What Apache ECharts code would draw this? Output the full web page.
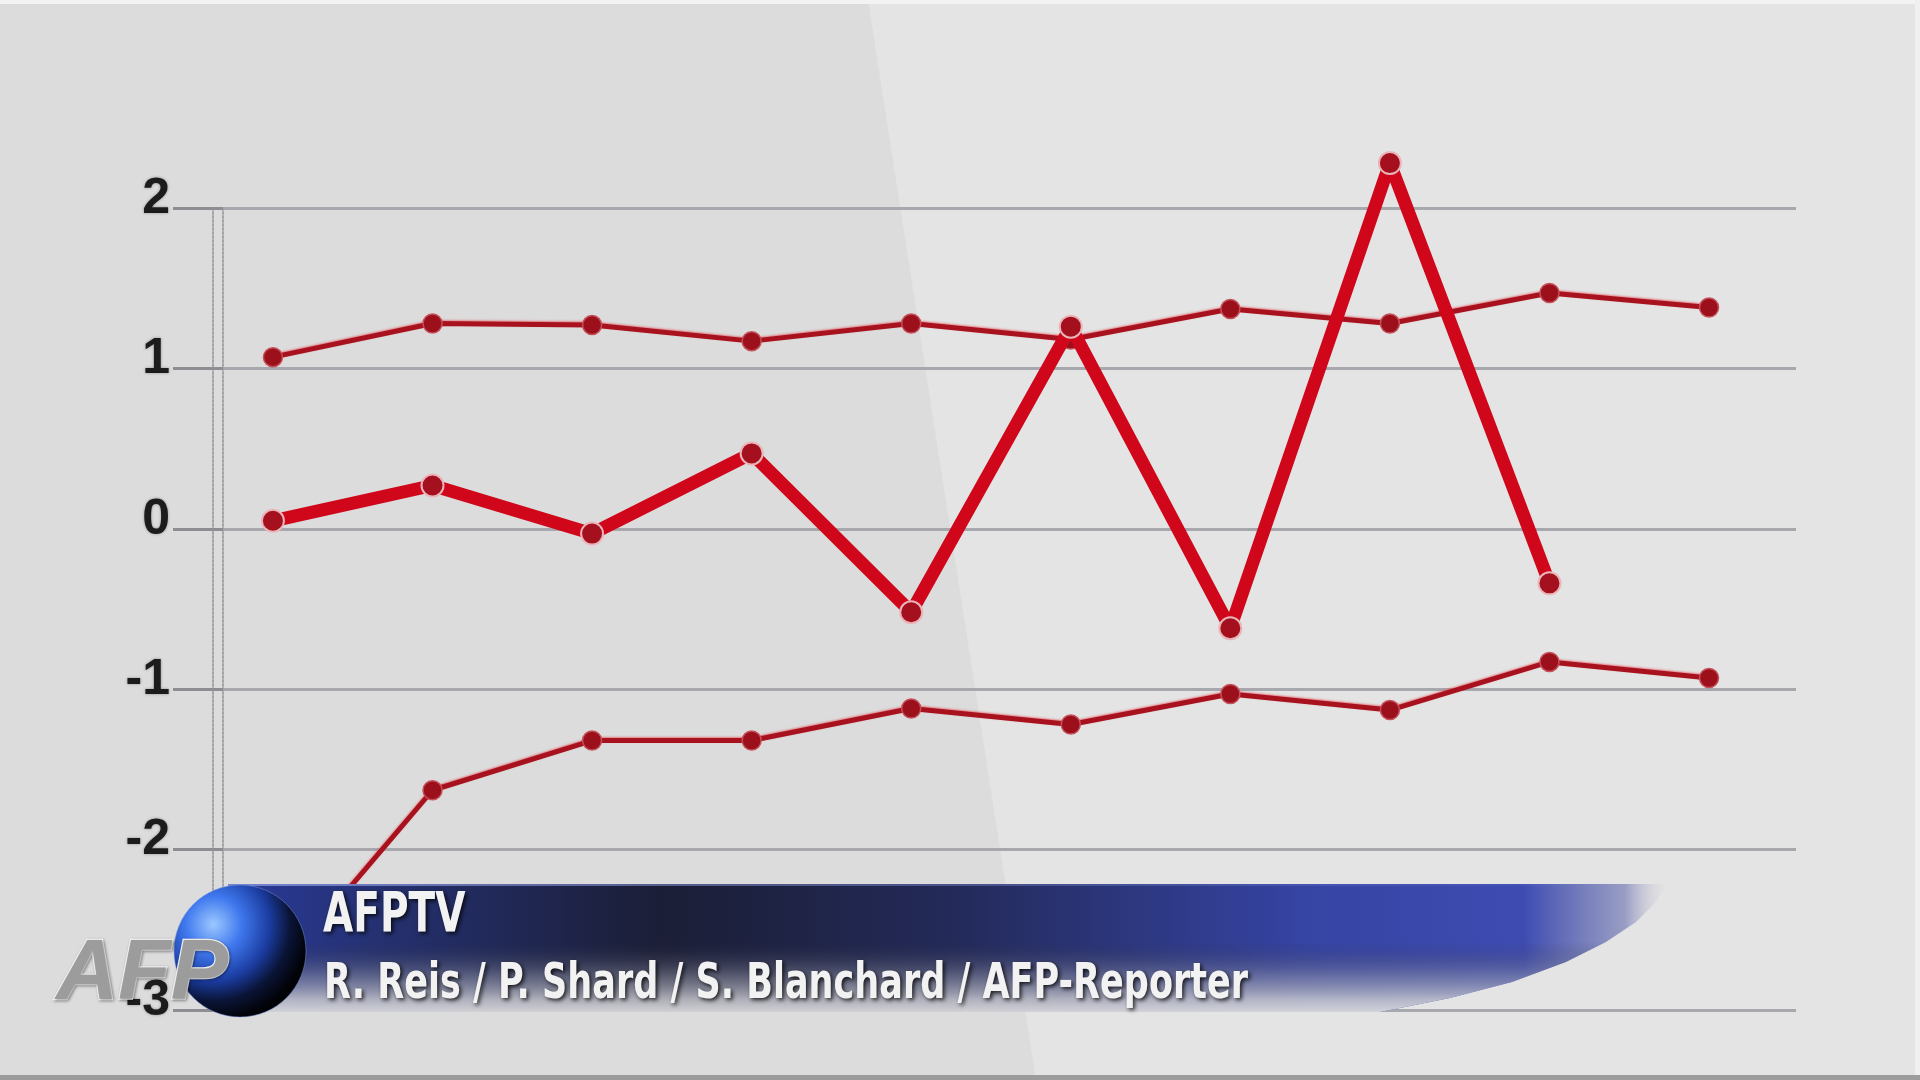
<!DOCTYPE html>
<html>
<head>
<meta charset="utf-8">
<script src="https://cdn.jsdelivr.net/npm/echarts@6/dist/echarts.min.js"></script>
<style>html,body{margin:0;padding:0;background:#dcdcdc;}#chart{width:1920px;height:1080px;}</style>
</head>
<body>
<div id="chart"></div>
<script>
// ---- data ----
const categories = [0, 1, 2, 3, 4, 5, 6, 7, 8, 9];
const upperSeries = [1.07, 1.28, 1.27, 1.17, 1.28, 1.18, 1.37, 1.28, 1.47, 1.38];
const middleSeries = [0.05, 0.27, -0.03, 0.47, -0.52, 1.26, -0.62, 2.28, -0.34];
const lowerSeries = [-2.8, -1.63, -1.32, -1.32, -1.12, -1.22, -1.03, -1.13, -0.83, -0.93];
const yTicks = [-3, -2, -1, 0, 1, 2];
const bannerTitle = 'AFPTV';
const bannerCredits = 'R. Reis / P. Shard / S. Blanchard / AFP-Reporter';
const logoText = 'AFP';

const toPairs = arr => arr.map((v, i) => [categories[i], v]);

const chart = echarts.init(document.getElementById('chart'), null, {renderer: 'canvas'});

const thinLine = (name, data) => ({
  name, type: 'line', data: toPairs(data), z: 3, clip: false,
  symbol: 'circle', symbolSize: 19,
  lineStyle: {color: '#a8121e', width: 5, shadowColor: 'rgba(230,60,70,0.6)', shadowBlur: 2, shadowOffsetY: -1},
  itemStyle: {color: '#9c101c', borderColor: '#c4505a', borderWidth: 1.5},
  emphasis: {disabled: true}
});

const bannerPoly = [[228,884],[1668,884],[1656,902],[1636,922],[1606,942],[1566,962],[1512,982],[1450,998],[1380,1012],[228,1012]];

const option = {
  backgroundColor: '#dcdcdc',
  animation: false,
  grid: {left: 223, right: 124, top: 208, bottom: 70, containLabel: false},
  xAxis: {type: 'value', min: -0.313, max: 9.545, show: false},
  yAxis: [
    {
      type: 'value', min: yTicks[0], max: yTicks[yTicks.length - 1], interval: 1,
      axisLine: {show: true, onZero: false, lineStyle: {color: '#a4a4a8', width: 2, type: 'dotted'}},
      axisTick: {show: true, length: 50, lineStyle: {color: '#8e8e92', width: 3}},
      axisLabel: {
        margin: 53, fontSize: 50, fontWeight: 'bold', color: '#1c1c1c',
        fontFamily: 'Liberation Sans', verticalAlign: 'bottom', lineHeight: 18,
        textShadowColor: 'rgba(0,0,0,0.35)', textShadowBlur: 3
      },
      splitLine: {show: true, lineStyle: {color: '#a6a8ae', width: 3}}
    },
    {
      type: 'value', min: yTicks[0], max: yTicks[yTicks.length - 1], interval: 1,
      position: 'left', offset: 10,
      axisLine: {show: true, onZero: false, lineStyle: {color: '#a4a4a8', width: 2, type: 'dotted'}},
      axisTick: {show: false}, axisLabel: {show: false}, splitLine: {show: false}
    }
  ],
  series: [
    thinLine('upper', upperSeries),
    thinLine('lower', lowerSeries),
    {
      name: 'middle', type: 'line', data: toPairs(middleSeries), z: 4, clip: false,
      symbol: 'circle', symbolSize: 22,
      lineStyle: {color: '#d0061a', width: 13},
      itemStyle: {color: '#a5101e', borderColor: '#eab4b8', borderWidth: 2},
      emphasis: {disabled: true}
    }
  ],
  graphic: [
    // background lighter right part
    {type: 'polygon', z: -10, silent: true,
     shape: {points: [[868,0],[1920,0],[1920,1080],[1036,1080]]},
     style: {fill: '#e4e4e4'}},
    {type: 'rect', z: -9, silent: true, shape: {x: 0, y: 0, width: 1920, height: 4}, style: {fill: '#f3f3f3'}},
    {type: 'rect', z: -9, silent: true, shape: {x: 1915, y: 0, width: 5, height: 1080}, style: {fill: '#f0f0f0'}},
    {type: 'rect', z: 200, silent: true, shape: {x: 0, y: 1075, width: 1920, height: 5}, style: {fill: '#9c9c9c'}},
    // banner
    {type: 'polygon', z: 100, silent: true,
     shape: {points: bannerPoly},
     style: {fill: new echarts.graphic.LinearGradient(228, 0, 1668, 0, [
       {offset: 0, color: '#2a3a9c'}, {offset: 0.1, color: '#253172'},
       {offset: 0.3, color: '#1b1e36'}, {offset: 0.5, color: '#232a58'},
       {offset: 0.75, color: '#3644a4'}, {offset: 0.9, color: '#3e4cb2'},
       {offset: 0.97, color: 'rgba(90,98,170,0.55)'}, {offset: 1, color: 'rgba(200,200,210,0)'}], true)}},
    {type: 'polygon', z: 101, silent: true,
     shape: {points: bannerPoly},
     style: {fill: new echarts.graphic.LinearGradient(0, 884, 0, 1012, [
       {offset: 0, color: 'rgba(0,0,0,0)'}, {offset: 0.45, color: 'rgba(40,40,60,0)'},
       {offset: 0.72, color: 'rgba(150,152,165,0.5)'}, {offset: 0.9, color: 'rgba(200,200,206,0.85)'},
       {offset: 1, color: 'rgba(218,218,220,0.95)'}], true)}},
    {type: 'rect', z: 102, silent: true, shape: {x: 228, y: 884, width: 1440, height: 2},
     style: {fill: new echarts.graphic.LinearGradient(228, 0, 1668, 0, [
       {offset: 0, color: 'rgba(150,160,230,0.7)'}, {offset: 1, color: 'rgba(150,160,230,0)'}], true)}},
    // globe
    {type: 'circle', z: 110, silent: true,
     shape: {cx: 240, cy: 951, r: 66},
     style: {fill: new echarts.graphic.RadialGradient(0.3, 0.3, 0.85, [
       {offset: 0, color: '#9cc8ff'}, {offset: 0.25, color: '#3f78ee'},
       {offset: 0.5, color: '#1b3ca0'}, {offset: 0.68, color: '#0a1436'},
       {offset: 0.85, color: '#020308'}, {offset: 1, color: '#000000'}]),
       stroke: 'rgba(120,150,220,0.5)', lineWidth: 1}},
    // AFP logo
    {type: 'text', z: 120, silent: true, x: 56, y: 975,
     style: {text: logoText, font: 'italic bold 86px "Liberation Sans"', textAlign: 'left', verticalAlign: 'middle',
       fill: '#9c9c9c', stroke: '#f6f6f6', lineWidth: 2.5,
       textShadowColor: 'rgba(0,0,0,0.35)', textShadowBlur: 3, textShadowOffsetX: 1, textShadowOffsetY: 1}},
    // banner texts
    {type: 'text', z: 130, silent: true, x: 323, y: 916, scaleX: 0.775,
     style: {text: bannerTitle, font: 'bold 56px "Liberation Sans Narrow", "DejaVu Sans Condensed", sans-serif',
       fill: '#f2f2f2', verticalAlign: 'middle', textAlign: 'left',
       textShadowColor: 'rgba(0,0,0,0.8)', textShadowBlur: 4, textShadowOffsetX: 2, textShadowOffsetY: 2}},
    {type: 'text', z: 130, silent: true, x: 324, y: 985, scaleX: 0.795,
     style: {text: bannerCredits, font: 'bold 49px "Liberation Sans Narrow", "DejaVu Sans Condensed", sans-serif',
       fill: '#f2f2f2', verticalAlign: 'middle', textAlign: 'left',
       textShadowColor: 'rgba(0,0,0,0.8)', textShadowBlur: 4, textShadowOffsetX: 2, textShadowOffsetY: 2}}
  ]
};
chart.setOption(option);
</script>
</body>
</html>
